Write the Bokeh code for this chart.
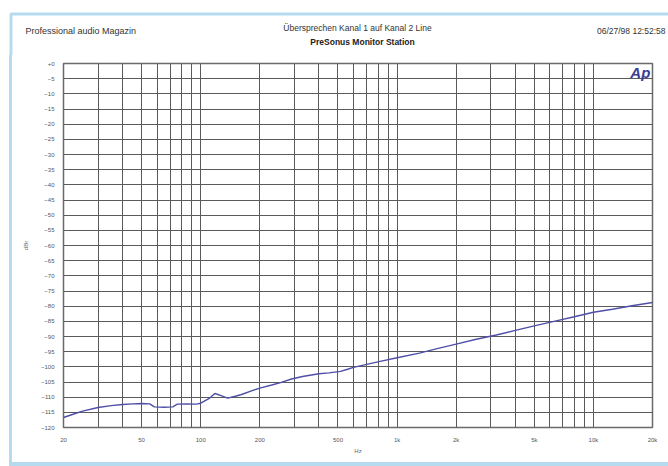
from bokeh.plotting import figure
from bokeh.models import Range1d, FixedTicker, Label, Div
from bokeh.layouts import column, row
from bokeh.core.properties import value
from bokeh.embed import file_html
from bokeh.resources import INLINE

# --- data ---
freq_hz = [20, 22, 25, 30, 35, 40, 45, 50, 55, 58, 65, 72, 76, 85, 95, 100,
           110, 118, 128, 137, 150, 160, 180, 200, 230, 255, 290, 330, 400,
           450, 515, 560, 600, 700, 820, 1000, 1300, 1600, 2000, 2500, 3200,
           4000, 5000, 6300, 8000, 10000, 12500, 16000, 20000]
crosstalk_dbr = [-116.7, -115.8, -114.6, -113.4, -112.8, -112.4, -112.2, -112.1,
                 -112.2, -113.2, -113.3, -113.2, -112.3, -112.2, -112.3, -112.0,
                 -110.5, -108.8, -109.6, -110.3, -109.7, -109.2, -108.0, -107.0,
                 -106.0, -105.2, -104.0, -103.2, -102.3, -102.0, -101.5, -100.8,
                 -100.2, -99.2, -98.2, -97.0, -95.5, -94.0, -92.5, -91.0, -89.5,
                 -88.0, -86.5, -85.0, -83.5, -82.0, -81.0, -79.8, -78.8]

x_major_ticks = [20, 50, 100, 200, 500, 1000, 2000, 5000, 10000, 20000]
x_major_labels = ["20", "50", "100", "200", "500", "1k", "2k", "5k", "10k", "20k"]
x_minor_ticks = [30, 40, 60, 70, 80, 90, 300, 400, 600, 700, 800, 900,
                 3000, 4000, 6000, 7000, 8000, 9000]
y_ticks = list(range(-120, 1, 5))

header_left = "Professional audio Magazin"
header_title = "Übersprechen Kanal 1 auf Kanal 2 Line"
header_subtitle = "PreSonus Monitor Station"
header_right = "06/27/98 12:52:58"
x_label = "Hz"
y_label = "dBr"
logo = "Ap"

FONT = "Liberation Sans"
GRID = "#5a5a5a"
BLUE = "#b7dbee"
W, H = 668, 466
HEAD_H = 55
FOOT_H = 4
STRIP_W = 12
BODY_H = H - HEAD_H - FOOT_H

# ---- header (texts + top of the light blue frame) ----
head = figure(width=W, height=HEAD_H, x_range=Range1d(0, W),
              y_range=Range1d(HEAD_H, 0), x_axis_location=None,
              y_axis_location=None, output_backend="svg",
              toolbar_location=None, min_border=0)
head.grid.visible = False
head.outline_line_color = None
head.line([10.5, 10.5, W], [HEAD_H + 2, 13.5, 13.5], line_color=BLUE, line_width=3)
head.text(x=[25], y=[30], text=[header_left], text_font=value(FONT),
          text_font_size="9px", text_color="#333333",
          text_baseline="middle", text_align="left")
head.text(x=[357], y=[27], text=[header_title], text_font=value(FONT),
          text_font_size="8.5px", text_color="#333333",
          text_baseline="middle", text_align="center")
head.text(x=[362], y=[41], text=[header_subtitle], text_font=value(FONT),
          text_font_size="8.5px", text_color="#222222", text_font_style="bold",
          text_baseline="middle", text_align="center")
head.text(x=[665], y=[30], text=[header_right], text_font=value(FONT),
          text_font_size="8.5px", text_color="#333333",
          text_baseline="middle", text_align="right")

# ---- left side and bottom of the frame (plain blocks) ----
strip = Div(width=STRIP_W, height=BODY_H, margin=(0, 0, 0, 0), text="",
            styles={"background": f"linear-gradient(to right, #ffffff 9px, {BLUE} 9px, {BLUE} 12px)"})
foot = Div(width=W, height=FOOT_H, margin=(0, 0, 0, 0), text="",
           styles={"background": f"linear-gradient(to right, #ffffff 9px, {BLUE} 9px)"})

# ---- main chart ----
p = figure(width=W - STRIP_W, height=BODY_H, x_axis_type="log",
           x_range=Range1d(20, 20000), y_range=Range1d(-120, 0),
           output_backend="svg", toolbar_location=None,
           min_border_left=63 - STRIP_W, min_border_right=W - 652,
           min_border_top=63 - HEAD_H, min_border_bottom=(H - FOOT_H) - 427)
p.background_fill_color = "white"
p.border_fill_color = "white"
p.outline_line_color = "#6a6a6a"
p.outline_line_width = 1.5

p.xaxis.ticker = FixedTicker(ticks=x_major_ticks, minor_ticks=x_minor_ticks)
p.xaxis.major_label_overrides = {t: l for t, l in zip(x_major_ticks, x_major_labels)}
p.yaxis.ticker = FixedTicker(ticks=y_ticks)
p.yaxis.major_label_overrides = {0: "+0"}
for ax in (p.xaxis, p.yaxis):
    ax.axis_line_color = None
    ax.major_tick_line_color = None
    ax.minor_tick_line_color = None
    ax.major_label_text_font = FONT
    ax.major_label_text_font_size = "6px"
    ax.major_label_text_color = "#555555"
    ax.major_label_standoff = 3
    ax.axis_label_text_font = FONT
    ax.axis_label_text_font_size = "6px"
    ax.axis_label_text_color = "#666666"
    ax.axis_label_text_font_style = "normal"
p.xaxis.axis_label = x_label
p.yaxis.axis_label = y_label
p.xaxis.axis_label_standoff = 2
p.yaxis.axis_label_standoff = 9

p.xgrid.ticker = FixedTicker(ticks=x_major_ticks, minor_ticks=x_minor_ticks)
p.xgrid.grid_line_color = GRID
p.xgrid.minor_grid_line_color = GRID
p.xgrid.grid_line_width = 1
p.xgrid.minor_grid_line_width = 1
p.ygrid.ticker = FixedTicker(ticks=y_ticks)
p.ygrid.grid_line_color = GRID
p.ygrid.grid_line_width = 1

p.line(freq_hz, crosstalk_dbr, line_color="#4f4fa8", line_width=1.4)

p.add_layout(Label(x=19500, y=-3.0, text=logo, text_font=FONT,
                   text_font_size="15px", text_color="#3c3c96",
                   text_font_style="bold italic",
                   text_baseline="middle", text_align="right"))

layout = column(head, row(strip, p), foot)
open("out.html", "w").write(file_html(layout, INLINE))
